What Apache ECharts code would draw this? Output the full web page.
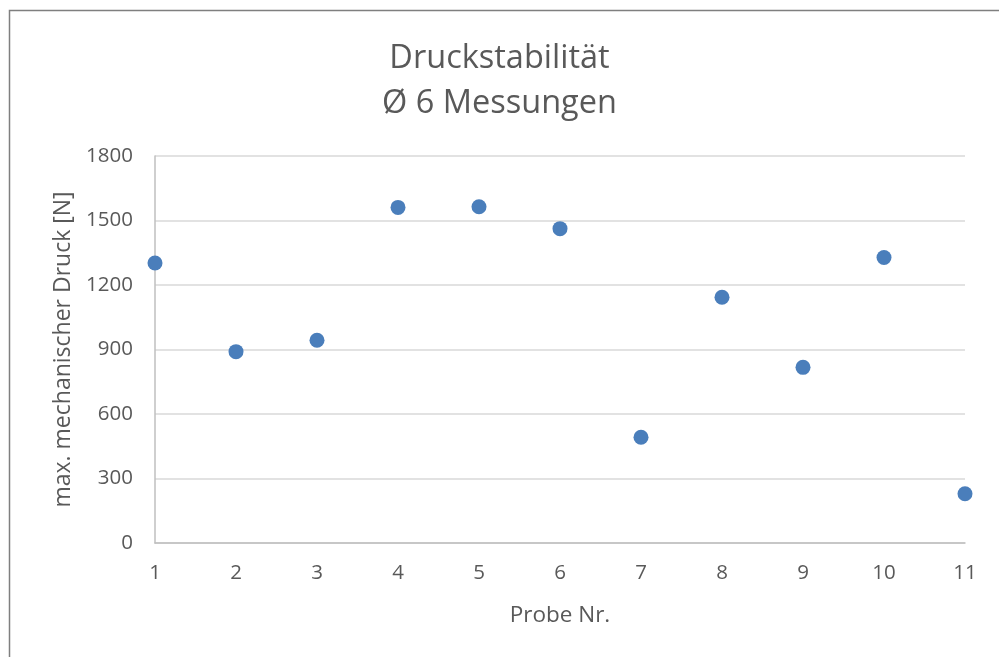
<!DOCTYPE html>
<html>
<head>
<meta charset="utf-8">
<script src="https://cdn.jsdelivr.net/npm/echarts@6/dist/echarts.min.js"></script>
<style>
  html, body { margin: 0; padding: 0; background: #fff; }
  #chart { width: 999px; height: 657px; }
</style>
</head>
<body>
<div id="chart"></div>
<script>
// Probe-Nummern und gemessener Druck
const probeNr = [1, 2, 3, 4, 5, 6, 7, 8, 9, 10, 11];
const druckWerte = [1302, 890, 943, 1561, 1564, 1462, 492, 1143, 817, 1328, 229];

const titleText = 'Druckstabilität\nØ 6 Messungen';
const xName = 'Probe Nr.';
const yName = 'max. mechanischer Druck [N]';

const FONT = '"Open Sans", Lato, sans-serif';
const chart = echarts.init(document.getElementById('chart'));

chart.setOption({
  backgroundColor: '#fff',
  animation: false,
  textStyle: { fontFamily: FONT },
  graphic: [
    {
      type: 'rect',
      shape: { x: 9.5, y: 10.5, width: 1100, height: 800 },
      style: { fill: 'none', stroke: '#7f7f7f', lineWidth: 1.5 },
      silent: true,
    }
  ],
  title: {
    text: titleText,
    left: 'center',
    top: 31,
    textStyle: {
      fontFamily: FONT,
      fontSize: 32.5,
      fontWeight: 'normal',
      color: '#595959',
      lineHeight: 45,
    },
  },
  grid: { left: 155, right: 34, top: 156, bottom: 114, containLabel: false },
  xAxis: {
    type: 'value',
    min: 1,
    max: 11,
    interval: 1,
    name: xName,
    nameLocation: 'middle',
    nameGap: 61,
    nameTextStyle: { fontFamily: FONT, fontSize: 22.5, color: '#595959' },
    axisLine: { show: true, lineStyle: { color: '#bfbfbf', width: 1.5 } },
    axisTick: { show: false },
    splitLine: { show: false },
    axisLabel: { fontFamily: FONT, fontSize: 20.5, color: '#595959', margin: 20 },
  },
  yAxis: {
    type: 'value',
    min: 0,
    max: 1800,
    interval: 300,
    name: yName,
    nameLocation: 'middle',
    nameGap: 80,
    nameTextStyle: { fontFamily: FONT, fontSize: 23, color: '#595959' },
    axisLine: { show: true, lineStyle: { color: '#bfbfbf', width: 1.5 } },
    axisTick: { show: false },
    splitLine: { lineStyle: { color: '#d9d9d9', width: 1.5 } },
    axisLabel: {
      fontFamily: FONT, fontSize: 20.5, color: '#595959', margin: 22,
      formatter: v => String(v),
    },
  },
  series: [
    {
      type: 'scatter',
      data: probeNr.map((x, i) => [x, druckWerte[i]]),
      symbol: 'circle',
      symbolSize: 15,
      itemStyle: { color: '#4a7ebb', opacity: 1 },
      clip: false,
    }
  ],
});
</script>
</body>
</html>
